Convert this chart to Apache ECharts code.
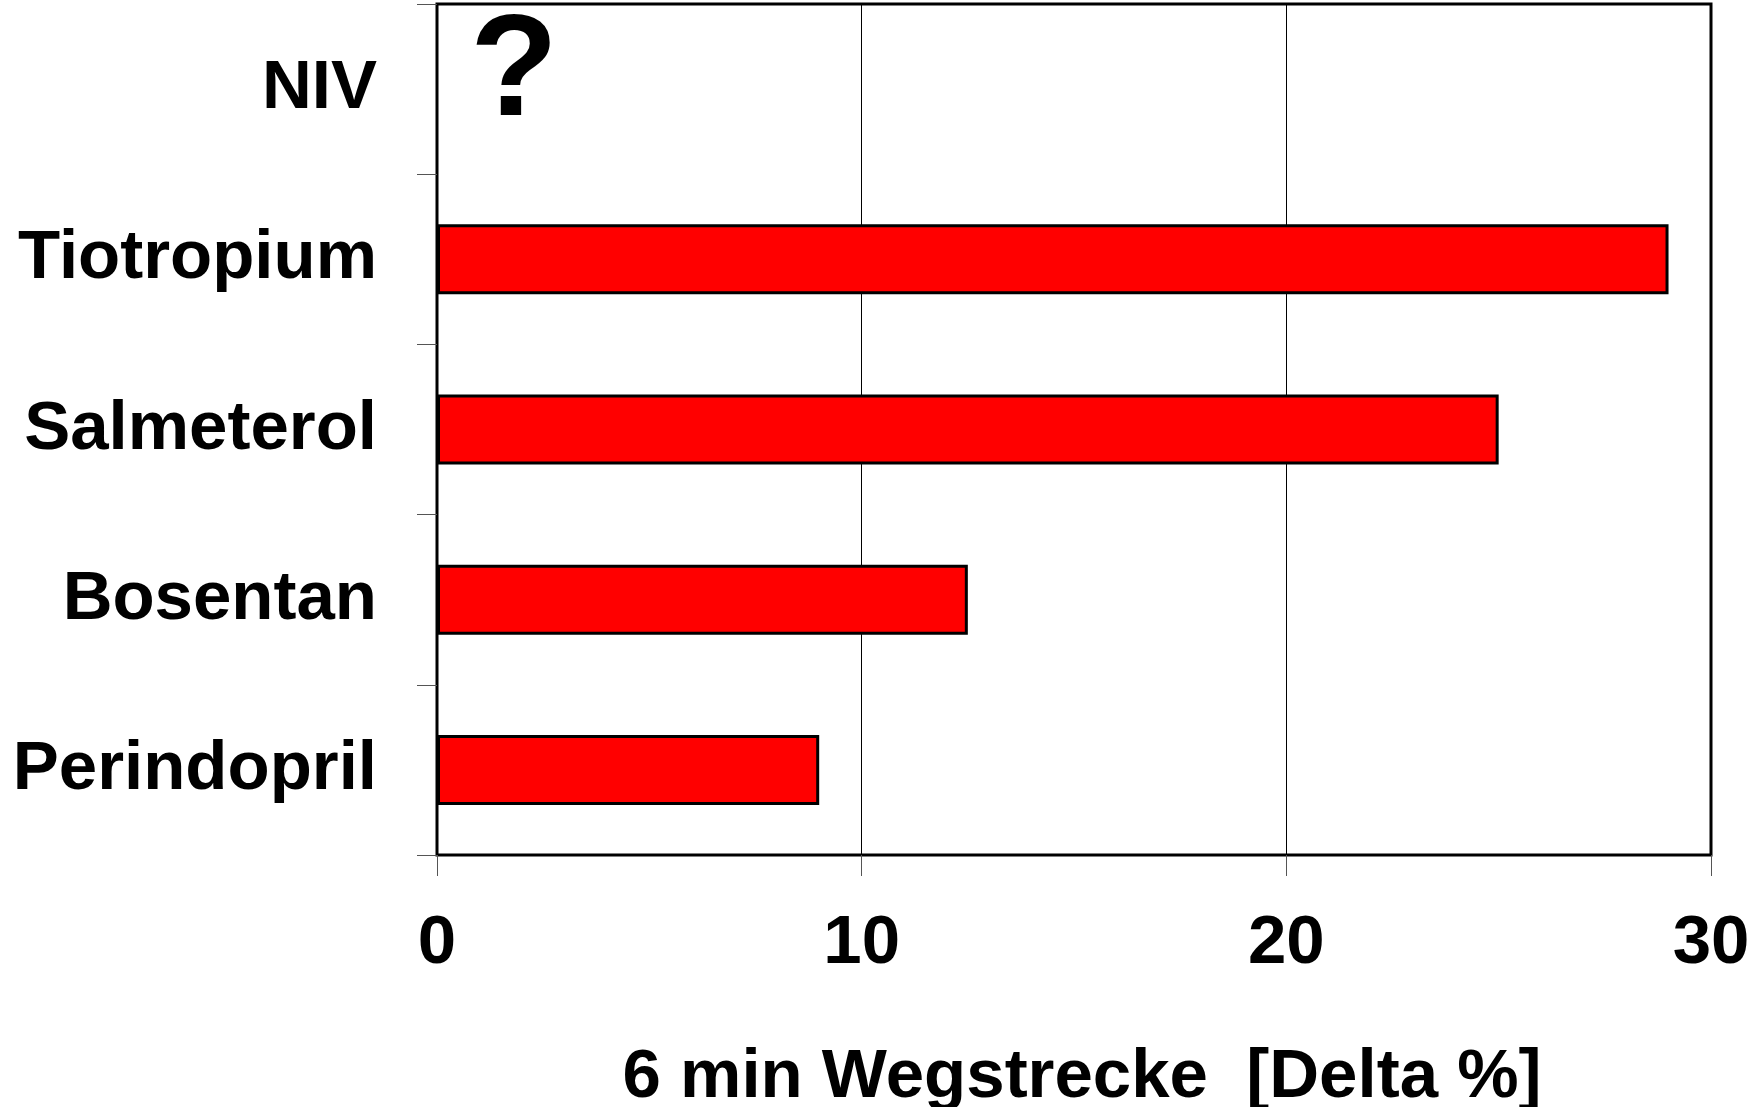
<!DOCTYPE html>
<html>
<head>
<meta charset="utf-8">
<script src="https://cdn.jsdelivr.net/npm/echarts@6/dist/echarts.min.js"></script>
<style>
  html, body { margin: 0; padding: 0; background: #fff; }
  #chart { width: 1762px; height: 1107px; }
</style>
</head>
<body>
<div id="chart"></div>
<script>
// Treatments, listed bottom to top
const categories = ['Perindopril', 'Bosentan', 'Salmeterol', 'Tiotropium', 'NIV'];
// Change in 6-minute walking distance, percent (NIV: no data)
const deltaPercent = [9, 12.5, 25, 29, null];
const xTicks = [0, 10, 20, 30];
const axisTitle = '6 min Wegstrecke  [Delta %]';

const FONT = '"Liberation Sans", Arial, sans-serif';

const chart = echarts.init(document.getElementById('chart'), null, { renderer: 'canvas' });

chart.setOption({
  animation: false,
  backgroundColor: '#ffffff',
  grid: {
    left: 437, right: 51, top: 4, bottom: 252,
    outerBoundsMode: 'none',
    containLabel: false,
    show: true, borderColor: '#000', borderWidth: 3,
    backgroundColor: 'transparent'
  },
  xAxis: {
    type: 'value',
    min: xTicks[0],
    max: xTicks[xTicks.length - 1],
    interval: 10,
    axisLine: { show: false },
    axisTick: { show: true, length: 21, lineStyle: { color: '#555', width: 1 } },
    splitLine: { show: true, lineStyle: { color: '#000', width: 1 } },
    axisLabel: {
      margin: 54,
      fontFamily: FONT, fontWeight: 'bold', fontSize: 69, color: '#000'
    },
    name: axisTitle,
    nameLocation: 'middle',
    nameGap: 188,
    nameTextStyle: {
      fontFamily: FONT, fontWeight: 'bold', fontSize: 69, color: '#000',
      padding: [0, 0, 0, 16]
    }
  },
  yAxis: {
    type: 'category',
    data: categories,
    axisLine: { show: false },
    axisTick: { show: true, length: 20, lineStyle: { color: '#555', width: 1 } },
    splitLine: { show: false },
    axisLabel: {
      margin: 60,
      fontFamily: FONT, fontWeight: 'bold', fontSize: 69, color: '#000'
    }
  },
  series: [{
    type: 'bar',
    data: deltaPercent,
    barWidth: 70,
    itemStyle: { color: '#ff0000', borderColor: '#000', borderWidth: 3 }
  }],
  graphic: [{
    type: 'text',
    x: 514, y: 75,
    style: {
      text: '?',
      fontFamily: FONT, fontWeight: 'bold', fontSize: 144, fill: '#000',
      textAlign: 'center', textVerticalAlign: 'middle'
    }
  }]
});
</script>
</body>
</html>
